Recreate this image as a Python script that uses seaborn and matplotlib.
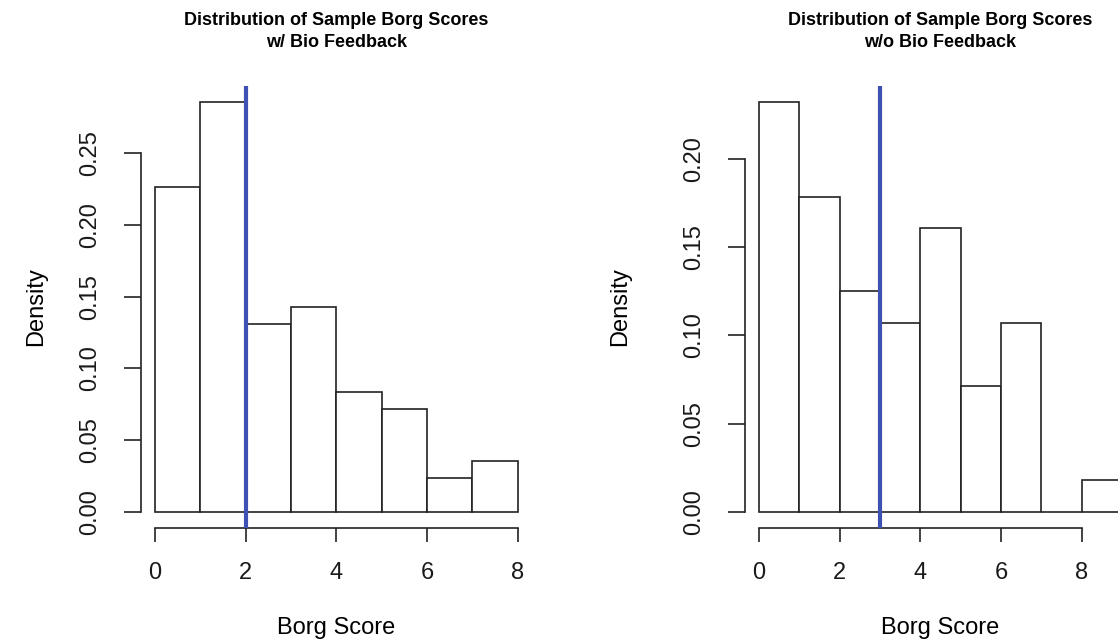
import numpy as np
import matplotlib
matplotlib.use("Agg")
import matplotlib.pyplot as plt
import seaborn as sns

# Borg score histograms (counts per 1-point bin)
with_edges = [0, 1, 2, 3, 4, 5, 6, 7, 8]
with_counts = [19, 24, 11, 12, 7, 6, 2, 3]
with_ref = 2

without_edges = [0, 1, 2, 3, 4, 5, 6, 7, 8, 9]
without_counts = [13, 10, 7, 6, 9, 4, 6, 0, 1]
without_ref = 3

x_ticks = [0, 2, 4, 6, 8]
with_yticks = [0.00, 0.05, 0.10, 0.15, 0.20, 0.25]
without_yticks = [0.00, 0.05, 0.10, 0.15, 0.20]

titles = ["Distribution of Sample Borg Scores\nw/ Bio Feedback",
          "Distribution of Sample Borg Scores\nw/o Bio Feedback"]

sns.set_style("ticks")
plt.rcParams['font.family'] = ['Liberation Sans', 'DejaVu Sans']
plt.rcParams['text.color'] = 'black'
plt.rcParams['axes.labelcolor'] = 'black'

W, H = 1118, 643
fig = plt.figure(figsize=(W / 100, H / 100), dpi=100)

# plot regions in pixels (top/bottom shared)
top, bottom = 85.6, 528.3
ph = bottom - top
ax1 = fig.add_axes([140.5 / W, (H - bottom) / H, 391.7 / W, ph / H])
ax2 = fig.add_axes([744.5 / W, (H - bottom) / H, 392.0 / W, ph / H])

panels = [
    (ax1, with_edges, with_counts, with_ref, with_yticks, titles[0]),
    (ax2, without_edges, without_counts, without_ref, without_yticks, titles[1]),
]

blue = '#3F51B5'

for ax, edges, counts, ref, yticks, title in panels:
    mids = np.array(edges[:-1]) + 0.5
    sns.histplot(x=mids, weights=counts, bins=edges, stat='density',
                 color='white', edgecolor='#222222', linewidth=1.2, alpha=1, ax=ax)
    ymax = max(counts) / sum(counts)
    xr = edges[-1] - edges[0]
    ax.set_xlim(edges[0] - 0.04 * xr, edges[-1] + 0.04 * xr)
    ax.set_ylim(-0.04 * ymax, ymax * 1.04)
    ax.axvline(ref, color=blue, linewidth=3.0, zorder=5)

    for s in ['top', 'right']:
        ax.spines[s].set_visible(False)
    ax.spines['left'].set_bounds(yticks[0], yticks[-1])
    ax.spines['bottom'].set_bounds(x_ticks[0], x_ticks[-1])
    for s in ['left', 'bottom']:
        ax.spines[s].set_linewidth(1.2)
        ax.spines[s].set_color('#222222')

    ax.set_xticks(x_ticks)
    ax.set_xticklabels([str(t) for t in x_ticks], fontsize=17)
    ax.set_yticks(yticks)
    ax.set_yticklabels([f"{t:.2f}" for t in yticks], fontsize=17,
                       rotation=90, va='center')
    ax.tick_params(axis='x', direction='out', length=10, width=1.2, pad=14,
                   color='#222222', labelcolor='#1a1a1a', bottom=True)
    ax.tick_params(axis='y', direction='out', length=12.5, width=1.2, pad=16,
                   color='#222222', labelcolor='#1a1a1a', left=True)

    ax.set_xlabel("Borg Score", fontsize=17)
    ax.set_ylabel("Density", fontsize=17)
    ax.xaxis.set_label_coords(0.5, -(617 - bottom) / ph)
    ax.set_title(title, fontsize=13, fontweight='bold', y=1 + (top - 31.5) / ph,
                 pad=0, va='center', linespacing=1.4)

ax1.yaxis.set_label_coords((47 - 140.5) / 391.7, 0.5)
ax2.yaxis.set_label_coords((631 - 744.5) / 392.0, 0.5)

fig.savefig("out.png", dpi=100)
